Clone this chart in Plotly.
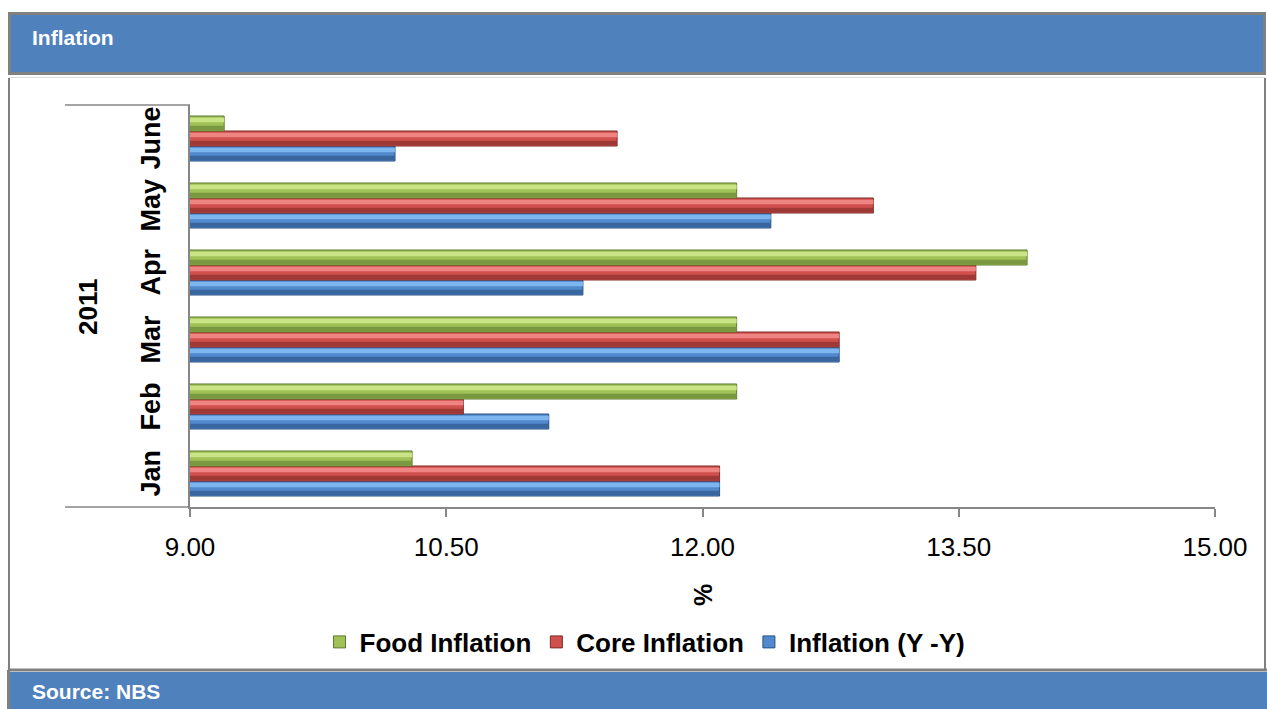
import plotly.graph_objects as go

W, H = 1267, 709

months = ["Jan", "Feb", "Mar", "Apr", "May", "June"]
food_inflation = [10.3, 12.2, 12.2, 13.9, 12.2, 9.2]
core_inflation = [12.1, 10.6, 12.8, 13.6, 13.0, 11.5]
headline_inflation = [12.1, 11.1, 12.8, 11.3, 12.4, 10.2]
x_ticks = [9.0, 10.5, 12.0, 13.5, 15.0]
group_label = "2011"


def px(x):
    return x / W


def py(y):
    return 1 - y / H


FONT = "Arial, Liberation Sans, sans-serif"
GRAY = "#868686"
BLUE_BAND = "#4F81BD"

fig = go.Figure()

BW = 0.224  # bar thickness in category units
# (name, values, base colour, light band, dark band, edge, offset)
series = [
    ("Inflation (Y -Y)", headline_inflation, "#5089CC", "#7DB5EE", "#3A66A0", "#2A4F80", -1.5 * BW),
    ("Core Inflation", core_inflation, "#D0504D", "#EE8583", "#9E3936", "#7E2B28", -0.5 * BW),
    ("Food Inflation", food_inflation, "#A0C158", "#C9E484", "#7A9840", "#5F7A2E", 0.5 * BW),
]
for name, vals, col, light, dark, edge, off in series:
    fig.add_trace(go.Bar(
        y=months, x=vals, name="<b>%s</b>" % name, orientation="h",
        width=BW, offset=off,
        marker=dict(color=col, line=dict(color=edge, width=1)),
    ))
for name, vals, col, light, dark, edge, off in series:
    fig.add_trace(go.Bar(
        y=months, x=vals, orientation="h", showlegend=False, hoverinfo="skip",
        width=BW * 0.3, offset=off + BW * 0.58,
        marker=dict(color=light, line=dict(width=0)),
    ))
    fig.add_trace(go.Bar(
        y=months, x=vals, orientation="h", showlegend=False, hoverinfo="skip",
        width=BW * 0.28, offset=off + BW * 0.07,
        marker=dict(color=dark, line=dict(width=0)),
    ))

shapes = []
shapes.append(dict(type="rect", xref="paper", yref="paper",
                   x0=px(9.5), x1=px(1264.5), y0=py(73.5), y1=py(13.5),
                   fillcolor=BLUE_BAND, line=dict(color="#808080", width=3), layer="below"))
shapes.append(dict(type="line", xref="paper", yref="paper",
                   x0=px(9), x1=px(9), y0=py(78), y1=py(670),
                   line=dict(color="#808080", width=2)))
shapes.append(dict(type="line", xref="paper", yref="paper",
                   x0=px(1265), x1=px(1265), y0=py(78), y1=py(670),
                   line=dict(color="#808080", width=2)))
shapes.append(dict(type="line", xref="paper", yref="paper",
                   x0=px(9), x1=px(1265), y0=py(77.5), y1=py(77.5),
                   line=dict(color="#D8DCE4", width=1)))
shapes.append(dict(type="rect", xref="paper", yref="paper",
                   x0=px(8), x1=px(1268), y0=py(712), y1=py(672),
                   fillcolor=BLUE_BAND, line=dict(width=0), layer="below"))
shapes.append(dict(type="line", xref="paper", yref="paper",
                   x0=px(8), x1=px(1267), y0=py(670), y1=py(670),
                   line=dict(color="#808080", width=3)))
shapes.append(dict(type="line", xref="paper", yref="paper",
                   x0=px(8.5), x1=px(8.5), y0=py(670), y1=py(709),
                   line=dict(color="#808080", width=3)))
shapes.append(dict(type="line", xref="paper", yref="paper",
                   x0=px(65), x1=px(190), y0=py(105), y1=py(105),
                   line=dict(color=GRAY, width=1.5)))
shapes.append(dict(type="line", xref="paper", yref="paper",
                   x0=px(65), x1=px(190), y0=py(507), y1=py(507),
                   line=dict(color=GRAY, width=1.5)))

annotations = []
annotations.append(dict(text="<b>Inflation</b>", xref="paper", yref="paper",
                        x=px(30), y=py(37), xanchor="left", yanchor="middle",
                        showarrow=False, font=dict(family=FONT, size=21, color="white")))
annotations.append(dict(text="<b>Source: NBS</b>", xref="paper", yref="paper",
                        x=px(30), y=py(691), xanchor="left", yanchor="middle",
                        showarrow=False, font=dict(family=FONT, size=21, color="white")))
for m in months:
    annotations.append(dict(text="<b>%s</b>" % m, xref="paper", yref="y",
                            x=px(150), y=m, xanchor="center", yanchor="middle",
                            textangle=-90, showarrow=False,
                            font=dict(family=FONT, size=27, color="black")))
annotations.append(dict(text="<b>%s</b>" % group_label, xref="paper", yref="paper",
                        x=px(88), y=py(307), xanchor="center", yanchor="middle",
                        textangle=-90, showarrow=False,
                        font=dict(family=FONT, size=26, color="black")))
annotations.append(dict(text="<b>%</b>", xref="paper", yref="paper",
                        x=px(703), y=py(595), xanchor="center", yanchor="middle",
                        textangle=-90, showarrow=False,
                        font=dict(family=FONT, size=25, color="black")))

fig.update_layout(
    width=W, height=H, autosize=False,
    margin=dict(l=0, r=0, t=0, b=0, pad=0),
    paper_bgcolor="white", plot_bgcolor="white",
    barmode="overlay",
    shapes=shapes, annotations=annotations,
    legend=dict(orientation="h", traceorder="reversed",
                x=px(645), y=py(642), xanchor="center", yanchor="middle",
                font=dict(family=FONT, size=26, color="black"),
                itemwidth=30, bgcolor="rgba(0,0,0,0)"),
    font=dict(family=FONT),
    xaxis=dict(domain=[px(190), px(1215)], range=[9, 15], automargin=False,
               tickvals=x_ticks, ticktext=["%.2f" % v for v in x_ticks],
               ticks="outside", ticklen=8, tickcolor=GRAY, tickwidth=1.5,
               ticklabelstandoff=8,
               showline=True, linecolor=GRAY, linewidth=1.5,
               showgrid=False, zeroline=False,
               tickfont=dict(family=FONT, size=26, color="black")),
    yaxis=dict(domain=[py(507), py(105)], categoryorder="array", categoryarray=months,
               automargin=False,
               showticklabels=False, showline=True, linecolor=GRAY, linewidth=1.5,
               showgrid=False, zeroline=False, ticks=""),
)

fig.write_html("out.html")
